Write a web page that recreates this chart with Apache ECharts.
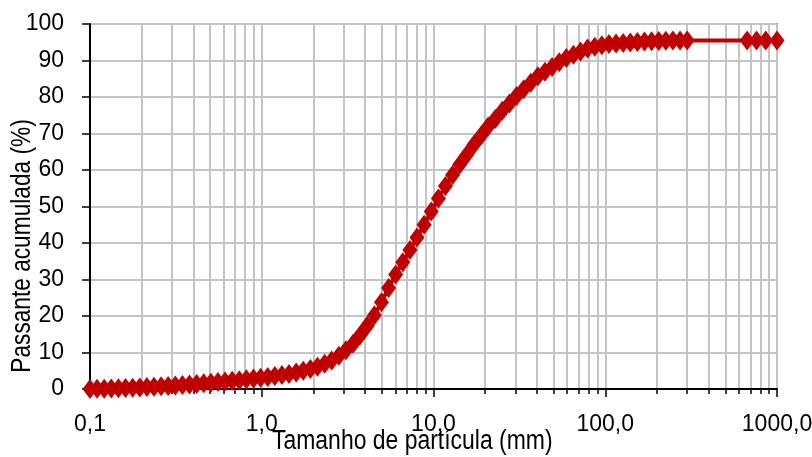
<!DOCTYPE html>
<html>
<head>
<meta charset="utf-8">
<script src="https://cdn.jsdelivr.net/npm/echarts@6/dist/echarts.min.js"></script>
<style>
html,body{margin:0;padding:0;background:#fff;}
#chart{width:812px;height:457px;}
</style>
</head>
<body>
<div id="chart"></div>
<script>
// Particle size (mm)
var sizes = [
  0.1, 0.11, 0.121, 0.1331, 0.1464, 0.1611, 0.1772, 0.1949, 0.2144, 0.2358,
  0.2594, 0.2853, 0.3138, 0.3452, 0.3797, 0.4177, 0.4595, 0.5054, 0.556, 0.6116,
  0.6727, 0.74, 0.814, 0.8954, 0.985, 1.0835, 1.1918, 1.311, 1.4421, 1.5863,
  1.7449, 1.9194, 2.1114, 2.3225, 2.5548, 2.8102, 3.0913, 3.4004, 3.7404, 4.1145,
  4.5259, 4.9785, 5.4764, 6.024, 6.6264, 7.289, 8.018, 8.8197, 9.7017, 10.672,
  11.739, 12.913, 14.204, 15.625, 17.187, 18.906, 20.797, 22.876, 25.164, 27.68,
  30.448, 33.493, 36.842, 40.527, 44.579, 49.037, 53.941, 59.335, 65.268, 71.795,
  78.975, 86.872, 95.56, 105.12, 115.63, 127.19, 139.91, 153.9, 169.29, 186.22,
  204.84, 225.33, 247.86, 272.65, 299.91,
  670, 760, 860, 1000
];
// Cumulative passing (%)
var passing = [
  0, 0.05, 0.09, 0.14, 0.19, 0.26, 0.35, 0.43, 0.53, 0.63,
  0.74, 0.85, 0.96, 1.10, 1.23, 1.38, 1.55, 1.72, 1.89, 2.06,
  2.23, 2.43, 2.64, 2.85, 3.06, 3.32, 3.58, 3.84, 4.09, 4.49,
  4.99, 5.49, 6.13, 6.91, 7.8, 9.1, 10.6, 12.4, 14.7, 17.3,
  20.2, 23.8, 27.7, 31.4, 34.7, 38.1, 41.5, 45.0, 48.6, 52.2,
  55.6, 58.6, 61.5, 64.2, 66.9, 69.4, 71.9, 74.0, 76.2, 78.2,
  80.3, 82.1, 83.9, 85.7, 86.9, 88.2, 89.5, 90.7, 91.6, 92.5,
  93.3, 93.8, 94.2, 94.5, 94.65, 94.8, 94.95, 95.1, 95.2, 95.3,
  95.35, 95.4, 95.45, 95.5, 95.5,
  95.5, 95.5, 95.5, 95.5
];
var xTitle = 'Tamanho de partícula (mm)';
var yTitle = 'Passante acumulada (%)';

var FONT = '"Liberation Sans", Arial, sans-serif';
var RED = '#C00000';
var GRID = '#c4c4c4';

var data = sizes.map(function (s, i) { return [s, passing[i]]; });

var chart = echarts.init(document.getElementById('chart'), null, {renderer: 'canvas'});
chart.setOption({
  animation: false,
  backgroundColor: '#ffffff',
  grid: {
    left: 90, right: 35, top: 24, bottom: 68,
    containLabel: false, outerBoundsMode: 'none',
    show: true, borderColor: '#8c8c8c', borderWidth: 2, backgroundColor: 'transparent'
  },
  xAxis: {
    type: 'log', logBase: 10, min: 0.1, max: 1000,
    axisLine: {show: true, onZero: false, lineStyle: {color: '#000', width: 2}},
    axisTick: {show: true, length: 8, lineStyle: {color: '#000', width: 1.5}},
    minorTick: {show: true, splitNumber: 9, length: 5, lineStyle: {color: '#000', width: 1.5}},
    splitLine: {show: true, lineStyle: {color: GRID, width: 2}},
    minorSplitLine: {show: true, lineStyle: {color: GRID, width: 2}},
    axisLabel: {
      margin: 24, color: '#000', fontSize: 23, fontFamily: FONT,
      formatter: function (v) { return Number(v).toFixed(1).replace('.', ','); }
    }
  },
  yAxis: {
    type: 'value', min: 0, max: 100, interval: 10,
    axisLine: {show: true, lineStyle: {color: '#000', width: 2}},
    axisTick: {show: true, length: 8, lineStyle: {color: '#000', width: 1.5}},
    splitLine: {show: true, lineStyle: {color: GRID, width: 2}},
    axisLabel: {margin: 26, color: '#000', fontSize: 23, fontFamily: FONT}
  },
  graphic: [
    {type: 'text', x: 272, y: 442, scaleX: 0.85, style: {text: xTitle, fontSize: 27, fontFamily: FONT, fill: '#000', align: 'left', verticalAlign: 'middle'}},
    {type: 'text', x: 23, y: 246, rotation: Math.PI / 2, scaleX: 0.84, style: {text: yTitle, fontSize: 27, fontFamily: FONT, fill: '#000', align: 'center', verticalAlign: 'middle'}}
  ],
  series: [{
    type: 'line',
    data: data,
    showSymbol: true,
    showAllSymbol: true,
    symbol: 'diamond',
    symbolSize: [15, 20],
    itemStyle: {color: RED},
    lineStyle: {color: RED, width: 4},
    clip: false,
    z: 5
  }]
});
</script>
</body>
</html>
